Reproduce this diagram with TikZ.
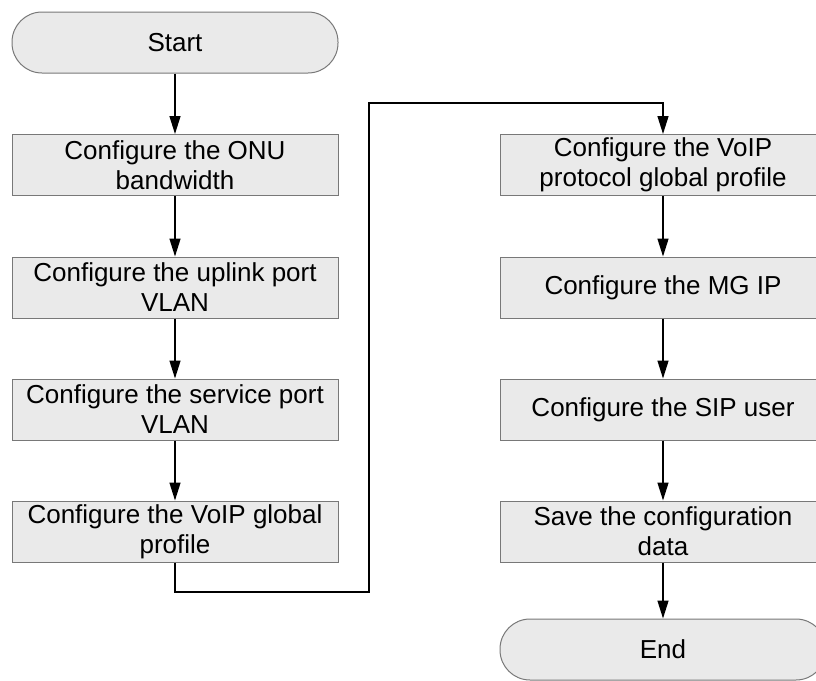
\documentclass[tikz,border=0pt]{standalone}
\usepackage{fontspec}
\setmainfont{Liberation Sans}
\usetikzlibrary{arrows.meta}
\definecolor{boxfill}{RGB}{234,234,234}
\definecolor{boxline}{RGB}{120,120,120}
\tikzset{
  procbox/.style={draw=boxline, fill=boxfill, line width=1pt, minimum width=326pt, minimum height=61pt, inner sep=0pt, align=center, font=\fontsize{26}{30}\selectfont},
  termbox/.style={procbox, rounded corners=30pt},
  flow/.style={line width=1.4pt, -{Triangle[length=18pt,width=11pt]}}
}
\begin{document}
\begin{tikzpicture}[x=1pt,y=-1pt]
\useasboundingbox (0,0) rectangle (816,680);
\clip (0,0) rectangle (816,680);
\node[termbox] (start) at (175,42.5) {Start};
\node[procbox] (l1) at (175,165) {Configure the ONU\\bandwidth};
\node[procbox] (l2) at (175,287.5) {Configure the uplink port\\VLAN};
\node[procbox] (l3) at (175,409.5) {Configure the service port\\VLAN};
\node[procbox] (l4) at (175,531.5) {Configure the VoIP global\\profile};
\node[procbox] (r1) at (663,165) {Configure the VoIP\\protocol global profile};
\node[procbox] (r2) at (663,287.5) {Configure the MG IP};
\node[procbox] (r3) at (663,409.5) {Configure the SIP user};
\node[procbox] (r4) at (663,531.5) {Save the configuration\\data};
\node[termbox] (end) at (663,649.5) {End};
\coordinate (c1) at (175,592);
\coordinate (c2) at (369,592);
\coordinate (c3) at (369,103);
\coordinate (c4) at (663,103);
\draw[flow] (start) -- (l1);
\draw[flow] (l1) -- (l2);
\draw[flow] (l2) -- (l3);
\draw[flow] (l3) -- (l4);
\draw[flow] (l4.south) -- (c1) -- (c2) -- (c3) -- (c4) -- (r1.north);
\draw[flow] (r1) -- (r2);
\draw[flow] (r2) -- (r3);
\draw[flow] (r3) -- (r4);
\draw[flow] (r4) -- (end);
\end{tikzpicture}
\end{document}
